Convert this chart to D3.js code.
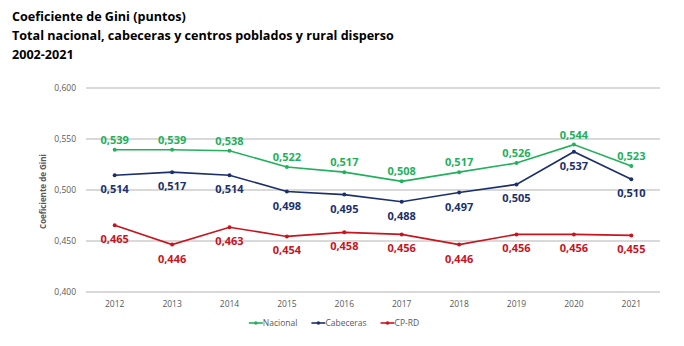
<!DOCTYPE html>
<html>
<head>
<meta charset="utf-8">
<script src="https://cdn.jsdelivr.net/npm/d3@7"></script>
<style>
  html, body { margin: 0; padding: 0; background: #fff; }
  svg { display: block; font-family: "Open Sans", "Noto Sans", sans-serif; }
</style>
</head>
<body>
<svg id="chart" width="684" height="346"></svg>
<script>
// Gini coefficient by area, 2012-2021
const years = ["2012","2013","2014","2015","2016","2017","2018","2019","2020","2021"];
const nacional   = [0.539, 0.539, 0.538, 0.522, 0.517, 0.508, 0.517, 0.526, 0.544, 0.523];
const cabeceras  = [0.514, 0.517, 0.514, 0.498, 0.495, 0.488, 0.497, 0.505, 0.537, 0.510];
const cprd       = [0.465, 0.446, 0.463, 0.454, 0.458, 0.456, 0.446, 0.456, 0.456, 0.455];
const yTicks = [0.400, 0.450, 0.500, 0.550, 0.600];
const seriesNames = ["Nacional", "Cabeceras", "CP-RD"];
const titleLines = [
  "Coeficiente de Gini (puntos)",
  "Total nacional, cabeceras y centros poblados y rural disperso",
  "2002-2021"
];

const series = [
  { name: seriesNames[0], values: nacional,  color: "#22b05c", labelAbove: true },
  { name: seriesNames[1], values: cabeceras, color: "#1b2f6b", labelAbove: false },
  { name: seriesNames[2], values: cprd,      color: "#c8141e", labelAbove: false }
];

const svg = d3.select("#chart");
const fmt = v => d3.format(".3f")(v).replace(".", ",");

// Title block
svg.append("g").selectAll("text").data(titleLines).join("text")
  .attr("x", 12).attr("y", (d, i) => 21 + i * 19)
  .attr("font-size", 12.6).attr("font-weight", 700).attr("fill", "#000")
  .text(d => d);

const plot = { left: 86, right: 660, top: 87.5, bottom: 291.5 };

const x = d3.scaleBand().domain(years).range([plot.left, plot.right]);
const y = d3.scaleLinear().domain([0.4, 0.6]).range([plot.bottom, plot.top]);

// Gridlines and y tick labels
const yAxis = svg.append("g")
  .attr("transform", `translate(${plot.left},0)`)
  .call(d3.axisLeft(y).tickValues(yTicks).tickSize(-(plot.right - plot.left)).tickFormat(fmt).tickPadding(10));
yAxis.select(".domain").remove();
yAxis.selectAll(".tick line").attr("stroke", "#b3b3b3").attr("stroke-width", 1);
yAxis.selectAll(".tick text").attr("fill", "#595959").attr("font-size", 8.5)
  .attr("font-family", "Open Sans, sans-serif");

// X axis labels
const xAxis = svg.append("g")
  .attr("transform", `translate(0,${plot.bottom})`)
  .call(d3.axisBottom(x).tickSize(0).tickPadding(9));
xAxis.select(".domain").remove();
xAxis.selectAll(".tick text").attr("fill", "#595959").attr("font-size", 8.5)
  .attr("font-family", "Open Sans, sans-serif");

// Y axis title
svg.append("text")
  .attr("transform", `translate(46,${(plot.top + plot.bottom) / 2 + 2}) rotate(-90)`)
  .attr("text-anchor", "middle")
  .attr("font-size", 8).attr("font-weight", 700).attr("fill", "#595959")
  .text("Coeficiente de Gini");

const cx = d => x(d) + x.bandwidth() / 2;
const line = d3.line().x((d, i) => cx(years[i])).y(d => y(d));

series.forEach(s => {
  const g = svg.append("g");
  g.append("path").datum(s.values)
    .attr("d", line).attr("fill", "none")
    .attr("stroke", s.color).attr("stroke-width", 1.6);
  g.selectAll("circle").data(s.values).join("circle")
    .attr("cx", (d, i) => cx(years[i])).attr("cy", d => y(d))
    .attr("r", 2).attr("fill", s.color);
  g.selectAll("text").data(s.values).join("text")
    .attr("x", (d, i) => cx(years[i]))
    .attr("y", d => s.labelAbove ? y(d) - 6 : y(d) + 18)
    .attr("text-anchor", "middle")
    .attr("font-size", 11).attr("font-weight", 700).attr("fill", s.color)
    .text(d => fmt(d));
});

// Legend: items laid out in a row, centred under the plot
const legend = svg.append("g");
const swatch = 14, gap = 14;
let offset = 0;
series.forEach(s => {
  const lg = legend.append("g").attr("transform", `translate(${offset},0)`);
  lg.append("line").attr("x1", 0).attr("x2", swatch).attr("y1", 0).attr("y2", 0)
    .attr("stroke", s.color).attr("stroke-width", 1.6);
  lg.append("circle").attr("cx", swatch / 2).attr("cy", 0).attr("r", 1.8).attr("fill", s.color);
  const t = lg.append("text").attr("x", swatch).attr("y", 3)
    .attr("font-size", 8.5).attr("fill", "#595959").text(s.name);
  offset += swatch + t.node().getComputedTextLength() + gap;
});
const legendWidth = offset - gap;
legend.attr("transform", `translate(${334 - legendWidth / 2},323)`);
</script>
</body>
</html>
